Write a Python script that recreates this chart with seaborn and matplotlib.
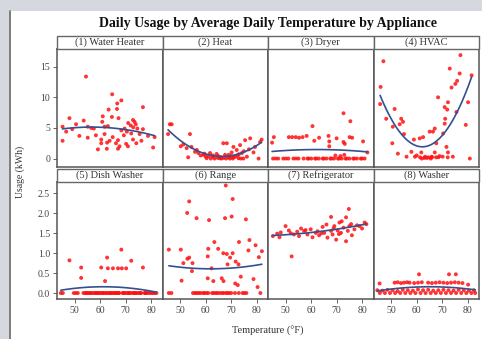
import matplotlib
matplotlib.use('Agg')
import matplotlib.pyplot as plt
import pandas as pd
import seaborn as sns
from matplotlib.lines import Line2D
from matplotlib.patches import Rectangle

TITLE = 'Daily Usage by Average Daily Temperature by Appliance'
appliances = ['(1) Water Heater', '(2) Heat', '(3) Dryer', '(4) HVAC',
              '(5) Dish Washer', '(6) Range', '(7) Refrigerator', '(8) Washer']
x_ticks = [50, 60, 70, 80]
y_ticks_top = [0, 5, 10, 15]
y_ticks_bottom = [0.0, 0.5, 1.0, 1.5, 2.0, 2.5]

# average daily temperature (F) and usage (kWh)
water_temp = [54.4, 64.7, 68.3, 66.7, 66.6, 63.3, 76.8, 47.9, 53.5, 61.0,
              64.6, 67.2, 72.9, 73.5, 45.2, 50.5, 55.1, 60.8, 61.7, 63.0,
              69.6, 72.0, 74.6, 76.8, 46.6, 57.5, 68.3, 72.2, 75.5, 51.8,
              58.3, 55.1, 61.7, 64.9, 69.3, 78.8, 81.4, 45.2, 60.4, 63.7,
              67.0, 72.9, 60.4, 62.7, 66.2, 70.2, 74.2, 76.2, 67.6, 70.9,
              59.1, 62.6, 67.0, 80.8, 71.0, 73.0, 74.0, 70.5, 49.0, 56.5]
water_use = [13.4, 10.5, 9.5, 9.0, 8.1, 8.0, 8.4, 6.6, 6.2, 6.9,
             6.8, 6.6, 6.3, 6.0, 5.2, 5.6, 5.2, 6.0, 5.2, 5.3,
             4.9, 5.4, 4.9, 4.8, 4.4, 4.9, 4.6, 4.1, 4.0, 3.7,
             3.8, 3.4, 4.0, 3.5, 3.8, 3.7, 3.5, 2.9, 3.1, 2.9,
             3.0, 3.1, 2.5, 2.6, 2.5, 2.4, 2.5, 2.9, 2.0, 2.0,
             1.5, 1.6, 1.6, 1.8, 5.8, 5.1, 5.6, 4.4, 4.8, 5.0]

heat_temp = [45.9, 46.6, 45.2, 53.8, 50.2, 51.2, 52.5, 54.4, 53.1, 55.8,
             57.1, 59.1, 60.4, 61.7, 63.0, 64.3, 65.6, 66.9, 68.3, 67.6,
             68.9, 70.2, 70.9, 71.6, 72.2, 72.9, 73.5, 74.2, 75.5, 76.2,
             77.5, 78.8, 79.4, 81.4, 80.8, 62.0, 63.5, 64.8, 66.2, 69.5,
             70.6, 73.8, 58.0, 60.0, 65.0, 67.0, 69.0, 71.0, 72.5, 74.8,
             56.5, 61.2, 66.0, 68.0, 75.0, 62.8, 70.0, 73.0, 77.0, 59.5,
             82.0]
heat_use = [5.6, 5.6, 4.0, 4.0, 2.0, 2.3, 1.7, 1.9, 0.2, 1.1,
            0.9, 0.6, 0.05, 0.9, 0.3, 0.75, 0.05, 2.5, 2.5, 0.6,
            0.2, 1.0, 1.9, 0.3, 1.4, 0.05, 2.2, 0.9, 3.0, 0.3,
            3.3, 1.0, 1.9, 2.7, 0.0, 0.0, 0.0, 0.1, 0.0, 0.0,
            0.0, 0.0, 0.5, 0.3, 0.4, 0.1, 0.6, 0.2, 0.5, 0.0,
            1.4, 0.4, 0.2, 0.0, 1.2, 0.5, 0.4, 0.7, 1.5, 0.8,
            3.1]

dryer_temp = [72.7, 60.5, 75.4, 45.3, 44.6, 51.2, 52.5, 53.9, 55.2, 56.6,
              58.2, 61.2, 63.1, 66.8, 67.1, 67.1, 70.0, 72.7, 73.2, 75.1,
              76.1, 80.4, 82.1, 45.0, 47.0, 49.0, 51.0, 53.0, 55.0, 57.0,
              58.5, 60.0, 61.5, 63.0, 64.5, 66.0, 67.5, 69.0, 70.5, 72.0,
              73.5, 75.0, 76.5, 78.0, 79.5, 81.0, 46.0, 50.0, 54.0, 59.0,
              62.0, 65.0, 68.0, 71.0, 74.0, 77.0, 80.0, 69.5, 71.5, 73.0]
dryer_use = [7.4, 5.3, 6.1, 3.5, 2.6, 3.5, 3.5, 3.5, 3.4, 3.5,
             3.7, 2.9, 3.4, 3.7, 2.8, 2.0, 3.3, 2.7, 2.4, 3.5,
             3.4, 2.8, 1.0, 0.0, 0.0, 0.0, 0.0, 0.0, 0.0, 0.0,
             0.0, 0.0, 0.0, 0.0, 0.0, 0.0, 0.0, 0.0, 0.0, 0.0,
             0.0, 0.0, 0.0, 0.0, 0.0, 0.0, 0.0, 0.0, 0.0, 0.0,
             0.0, 0.0, 0.0, 0.0, 0.0, 0.0, 0.0, 0.5, 0.4, 0.6]

hvac_temp = [46.9, 45.8, 45.6, 51.3, 77.2, 73.0, 76.9, 75.9, 75.2, 73.7,
             68.4, 72.3, 71.0, 72.0, 80.2, 75.6, 48.0, 53.9, 54.6, 53.3,
             50.6, 55.0, 71.2, 71.0, 79.3, 67.1, 66.4, 65.1, 70.4, 62.5,
             61.2, 58.9, 50.4, 67.7, 71.7, 57.9, 61.8, 67.1, 72.3, 52.6,
             56.0, 59.3, 61.3, 63.3, 64.6, 65.9, 67.6, 70.2, 72.2, 74.2,
             80.9, 63.0, 66.0, 69.0, 60.0, 62.0, 64.0, 65.5, 68.5, 81.6]
hvac_use = [15.9, 11.7, 8.9, 8.1, 16.9, 14.7, 13.9, 12.7, 12.2, 11.6,
            10.0, 9.2, 8.4, 8.0, 9.2, 7.6, 6.5, 6.5, 6.0, 5.6,
            5.2, 4.0, 6.5, 5.7, 5.5, 4.9, 4.4, 4.4, 4.1, 3.5,
            3.3, 3.1, 2.5, 2.5, 1.9, 1.1, 1.0, 1.0, 1.0, 0.8,
            0.3, 0.3, 0.2, 0.3, 0.2, 0.3, 0.2, 0.3, 0.2, 0.3,
            0.0, 0.1, 0.2, 0.4, 0.5, 0.0, 0.1, 0.0, 0.2, 13.6]

dish_temp = [47.9, 52.5, 52.5, 62.7, 68.3, 72.2, 60.4, 63.0, 65.0, 67.0,
             68.5, 70.2, 61.9, 76.8, 44.5, 45.3, 49.6, 50.4, 51.2, 53.4,
             54.1, 55.0, 55.6, 56.5, 57.3, 57.9, 58.8, 59.5, 60.1, 60.9,
             61.5, 62.2, 63.4, 64.1, 64.7, 65.6, 66.2, 66.9, 67.5, 68.9,
             69.4, 70.0, 70.8, 71.5, 72.8, 73.3, 74.0, 74.6, 75.3, 76.1,
             77.4, 78.0, 78.7, 79.5, 80.2, 80.8, 81.5, 82.1, 56.1, 59.2,
             61.0, 63.8, 65.3, 67.2, 69.0, 71.1, 73.6, 75.8, 58.3, 62.6,
             66.5, 71.9, 54.6, 77.8]
dish_use = [0.82, 0.64, 0.38, 0.89, 1.09, 0.81, 0.64, 0.62, 0.62, 0.62,
            0.62, 0.62, 0.30, 0.64, 0.0, 0.0, 0.0, 0.0, 0.0, 0.0,
            0.0, 0.0, 0.0, 0.0, 0.0, 0.0, 0.0, 0.0, 0.0, 0.0,
            0.0, 0.0, 0.0, 0.0, 0.0, 0.0, 0.0, 0.0, 0.0, 0.0,
            0.0, 0.0, 0.0, 0.0, 0.0, 0.0, 0.0, 0.0, 0.0, 0.0,
            0.0, 0.0, 0.0, 0.0, 0.0, 0.0, 0.0, 0.0, 0.0, 0.0,
            0.0, 0.0, 0.0, 0.0, 0.0, 0.0, 0.0, 0.0, 0.0, 0.0,
            0.0, 0.0, 0.0, 0.0]

range_temp = [67.9, 53.5, 70.6, 52.7, 56.4, 61.3, 67.6, 70.2, 75.8, 45.5,
              50.2, 63.4, 73.1, 77.2, 61.0, 64.9, 76.8, 82.1, 66.9, 68.3,
              70.6, 53.5, 52.8, 60.8, 69.6, 71.8, 51.2, 54.8, 72.9, 68.6,
              62.3, 54.6, 50.5, 60.8, 63.0, 66.3, 67.0, 73.8, 71.6, 78.8,
              80.4, 72.6, 45.5, 46.5, 55.0, 56.5, 58.0, 59.5, 61.0, 62.5,
              64.0, 65.5, 67.0, 68.5, 70.0, 71.5, 73.0, 74.5, 76.0, 81.5,
              57.2, 63.2, 69.2, 75.2, 55.8, 59.0, 60.3, 64.6, 66.4, 68.0,
              80.9, 79.6]
range_use = [2.70, 2.30, 2.36, 2.01, 1.88, 1.83, 1.88, 1.92, 1.85, 1.09,
             1.09, 1.28, 1.28, 1.33, 1.11, 1.11, 1.07, 1.05, 1.00, 0.98,
             1.00, 0.89, 0.86, 0.92, 0.89, 0.79, 0.75, 0.75, 0.72, 0.72,
             0.62, 0.55, 0.31, 0.37, 0.30, 0.37, 0.30, 0.41, 0.24, 0.35,
             0.15, 0.20, 0.0, 0.0, 0.0, 0.0, 0.0, 0.0, 0.0, 0.0,
             0.0, 0.0, 0.0, 0.0, 0.0, 0.0, 0.0, 0.0, 0.0, 0.0,
             0.0, 0.0, 0.0, 0.0, 0.0, 0.0, 0.0, 0.0, 0.0, 0.0,
             0.9, 1.2]

fridge_temp = [74.8, 67.8, 73.7, 52.3, 44.9, 46.6, 49.9, 51.2, 53.2, 54.5,
               55.2, 57.2, 58.5, 59.8, 60.5, 61.8, 63.1, 64.5, 65.1, 66.4,
               67.8, 68.4, 69.1, 69.8, 70.4, 71.1, 71.7, 72.7, 73.7, 74.4,
               75.7, 77.0, 79.0, 81.0, 81.7, 48.0, 56.0, 62.5, 66.0, 70.9,
               72.0, 76.0, 78.0, 80.0, 47.5, 52.0, 57.8, 64.0, 68.8, 75.0]
fridge_use = [2.11, 1.91, 1.90, 0.92, 1.43, 1.49, 1.68, 1.57, 1.47, 1.54,
              1.43, 1.56, 1.47, 1.60, 1.40, 1.51, 1.45, 1.66, 1.51, 1.39,
              1.56, 1.47, 1.68, 1.34, 1.57, 1.77, 1.51, 1.64, 1.30, 1.56,
              1.73, 1.60, 1.68, 1.77, 1.73, 1.52, 1.62, 1.55, 1.72, 1.48,
              1.80, 1.45, 1.70, 1.62, 1.40, 1.50, 1.58, 1.50, 1.62, 1.68]

washer_temp = [60.9, 72.7, 75.4, 45.4, 51.3, 52.5, 53.8, 55.0, 56.2, 57.2,
               59.0, 60.5, 62.0, 64.5, 66.0, 67.5, 69.0, 70.5, 72.0, 73.5,
               75.0, 76.5, 78.0, 80.2, 44.5, 46.5, 48.5, 50.5, 52.5, 54.5,
               56.5, 58.5, 60.5, 62.5, 64.5, 66.5, 68.5, 70.5, 72.5, 74.5,
               76.5, 78.5, 80.5, 82.5, 45.5, 47.5, 49.5, 51.5, 53.5, 55.5,
               57.5, 59.5, 61.5, 63.5, 65.5, 67.5, 69.5, 71.5, 73.5, 75.5,
               77.5, 79.5, 81.5, 83.0]
washer_use = [0.47, 0.47, 0.47, 0.24, 0.26, 0.27, 0.25, 0.26, 0.27, 0.26,
              0.25, 0.26, 0.27, 0.26, 0.25, 0.26, 0.27, 0.26, 0.25, 0.26,
              0.27, 0.26, 0.25, 0.21, 0.07, 0.06, 0.08, 0.07, 0.05, 0.08,
              0.07, 0.06, 0.09, 0.07, 0.08, 0.06, 0.07, 0.08, 0.07, 0.06,
              0.08, 0.07, 0.06, 0.07, 0.0, 0.0, 0.0, 0.0, 0.0, 0.0,
              0.0, 0.0, 0.0, 0.0, 0.0, 0.0, 0.0, 0.0, 0.0, 0.0,
              0.0, 0.0, 0.0, 0.0]

temps = [water_temp, heat_temp, dryer_temp, hvac_temp,
         dish_temp, range_temp, fridge_temp, washer_temp]
usages = [water_use, heat_use, dryer_use, hvac_use,
          dish_use, range_use, fridge_use, washer_use]

df = pd.concat([pd.DataFrame({'appliance': a, 'temp': t, 'usage': u})
                for a, t, u in zip(appliances, temps, usages)], ignore_index=True)

W, H = 482, 339
sns.set_theme(style='ticks')
plt.rcParams['font.family'] = ['Liberation Serif', 'DejaVu Serif']

fig, axes = plt.subplots(2, 4, figsize=(W / 100, H / 100), dpi=100,
                         sharex=True, sharey='row')
fig.patch.set_facecolor('#d5d9df')
fig.add_artist(Rectangle((9 / W, 0), 1, 1 - 11 / H, transform=fig.transFigure,
                         facecolor='white', edgecolor='none', zorder=-5))
fig.add_artist(Line2D([9.5 / W, 9.5 / W], [0, 1 - 11 / H], transform=fig.transFigure,
                      color='#666666', lw=1.2))
fig.subplots_adjust(left=57 / W, right=479 / W, top=1 - 49 / H, bottom=1 - 299 / H,
                    wspace=0, hspace=15 / 117.5)

strip_h = 13 / H
for i, ax in enumerate(axes.flat):
    name = appliances[i]
    sub = df[df['appliance'] == name]
    sns.regplot(data=sub, x='temp', y='usage', order=2, ci=None, ax=ax,
                scatter_kws=dict(s=8, color='#ff1010', alpha=0.85, edgecolors='none'),
                line_kws=dict(color='#34508f', lw=1.2))
    ax.set_xlabel('')
    ax.set_ylabel('')
    ax.set_facecolor('white')
    for sp in ax.spines.values():
        sp.set_color('#555555')
        sp.set_linewidth(1.1)
    ax.tick_params(direction='out', length=3, width=0.7, colors='#666666',
                   labelsize=7, labelcolor='#444444', pad=2)
    if i < 4:
        ax.tick_params(axis='x', length=0)
    if i % 4 != 0:
        ax.tick_params(axis='y', length=0)

    pos = ax.get_position()
    fig.add_artist(Rectangle((pos.x0, pos.y1), pos.width, strip_h, transform=fig.transFigure,
                             facecolor='white', edgecolor='#666666', lw=1.0))
    fig.text(pos.x0 + pos.width / 2, pos.y1 + strip_h / 2, name, ha='center', va='center',
             fontsize=7.5, color='#333333')

axes[0, 0].set_xlim(43, 84.5)
axes[0, 0].set_xticks(x_ticks)
axes[0, 0].set_ylim(-1.3, 17.9)
axes[0, 0].set_yticks(y_ticks_top)
axes[1, 0].set_ylim(-0.15, 2.8)
axes[1, 0].set_yticks(y_ticks_bottom)

fig.text(268 / W, 1 - 24 / H, TITLE, ha='center', va='center', fontsize=10,
         fontweight='bold', color='#111111')
fig.text(20 / W, 1 - 172 / H, 'Usage (kWh)', rotation=90, ha='center', va='center',
         fontsize=7, color='#333333')
fig.text(268 / W, 1 - 331 / H, 'Temperature (°F)', ha='center', va='center',
         fontsize=7.5, color='#333333')

fig.savefig('out.png', dpi=100, facecolor=fig.get_facecolor())
